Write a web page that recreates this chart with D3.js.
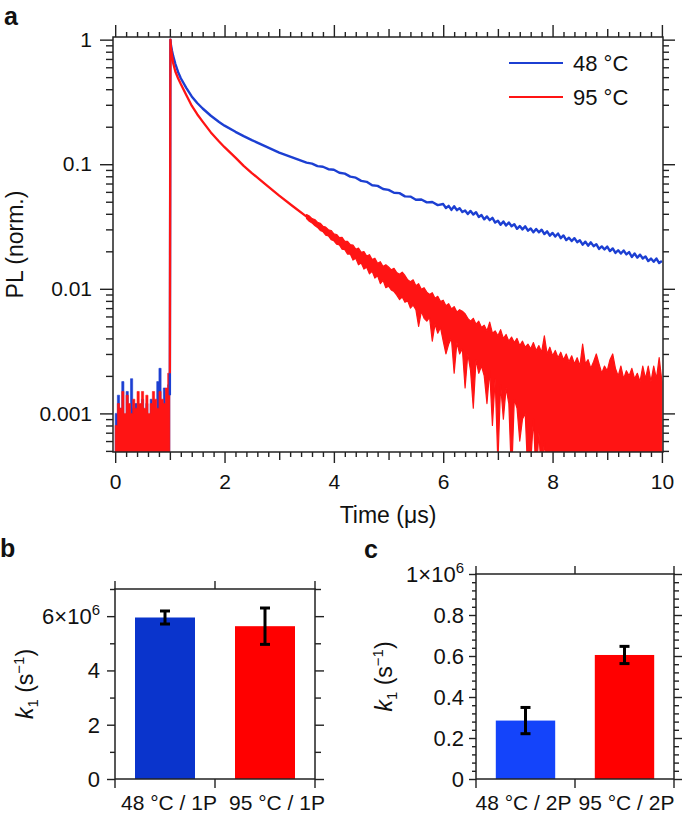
<!DOCTYPE html>
<html><head><meta charset="utf-8">
<script src="https://cdn.jsdelivr.net/npm/d3@7"></script>
<style>
body{margin:0;background:#fff;}
svg{display:block;font-family:"Liberation Sans",Arial,Helvetica,sans-serif;}
</style></head><body>
<svg id="chart" width="685" height="817"></svg>
<script>
// ---------------- DATA ----------------
const timeTicks = [0, 2, 4, 6, 8, 10];
const plTicks = [1, 0.1, 0.01, 0.001];
const plTickLabels = ["1", "0.1", "0.01", "0.001"];
const seriesNames = ["48 °C", "95 °C"];

// pre-pulse noise (time µs, upper value of the noise; trace reaches the floor between)
const blue48Pre = [[0.00,0.0010],[0.04,0.0014],[0.08,0.0011],[0.12,0.0018],[0.16,0.0009],[0.20,0.0015],[0.24,0.0010],[0.28,0.0019],[0.32,0.0011],[0.36,0.0012],[0.40,0.0010],[0.44,0.0011],[0.48,0.0013],[0.52,0.0010],[0.56,0.0012],[0.60,0.0009],[0.64,0.0013],[0.68,0.0011],[0.72,0.0010],[0.76,0.0018],[0.80,0.0023],[0.84,0.0012],[0.88,0.0016],[0.92,0.0011],[0.96,0.0017],[1.00,0.0014]];
const red95Pre = [[0.00,0.0008],[0.04,0.0012],[0.08,0.0011],[0.12,0.0015],[0.16,0.0010],[0.20,0.0014],[0.24,0.0012],[0.28,0.0010],[0.32,0.0013],[0.36,0.0011],[0.40,0.0015],[0.44,0.0012],[0.48,0.0015],[0.52,0.0011],[0.56,0.0014],[0.60,0.0010],[0.64,0.0012],[0.68,0.0015],[0.72,0.0013],[0.76,0.0011],[0.80,0.0015],[0.84,0.0013],[0.88,0.0012],[0.92,0.0016],[0.96,0.0021],[1.00,0.0021]];

// decay traces (time µs, PL norm.)
const blue48Decay = [[1.00,0.0014],[1.01,1.0],[1.02,0.90],[1.04,0.81],[1.06,0.74],[1.10,0.64],[1.15,0.55],[1.20,0.49],[1.30,0.41],[1.40,0.35],[1.50,0.31],[1.60,0.28],[1.75,0.245],[1.90,0.218],[2.00,0.204],[2.20,0.182],[2.35,0.168],[2.50,0.156],[2.75,0.139],[3.00,0.124],[3.25,0.113],[3.50,0.103],
[3.6,0.101],[3.7,0.0965],[3.8,0.0955],[3.9,0.0912],[4.0,0.0902],[4.1,0.0855],[4.2,0.0840],[4.3,0.0795],[4.4,0.0780],[4.5,0.0735],[4.6,0.0722],[4.7,0.0678],[4.8,0.0670],[4.9,0.0632],[5.0,0.0622],[5.1,0.0590],[5.2,0.0586],[5.3,0.0552],[5.4,0.0550],[5.5,0.0518],[5.6,0.0521],[5.7,0.0494],[5.8,0.0497],[5.9,0.0470],
[6.00,0.0479],[6.05,0.0445],[6.10,0.0463],[6.15,0.0430],[6.20,0.0460],[6.25,0.0428],[6.30,0.0444],[6.35,0.0413],[6.40,0.0425],[6.45,0.0398],[6.50,0.0422],[6.55,0.0395],[6.60,0.0412],[6.65,0.0377],[6.70,0.0391],[6.75,0.0361],[6.80,0.0381],[6.85,0.0356],[6.90,0.0371],[6.95,0.0340],
[7.00,0.0352],[7.05,0.0327],[7.10,0.0347],[7.15,0.0322],[7.20,0.0341],[7.25,0.0318],[7.30,0.0330],[7.35,0.0303],[7.40,0.0319],[7.45,0.0300],[7.50,0.0317],[7.55,0.0293],[7.60,0.0305],[7.65,0.0284],[7.70,0.0302],[7.75,0.0284],[7.80,0.0298],[7.85,0.0275],[7.90,0.0289],[7.95,0.0267],
[8.00,0.0281],[8.05,0.0263],[8.10,0.0278],[8.15,0.0255],[8.20,0.0268],[8.25,0.0246],[8.30,0.0257],[8.35,0.0242],[8.40,0.0255],[8.45,0.0237],[8.50,0.0245],[8.55,0.0226],[8.60,0.0239],[8.65,0.0222],[8.70,0.0236],[8.75,0.0220],[8.80,0.0228],[8.85,0.0209],[8.90,0.0219],[8.95,0.0207],
[9.00,0.0218],[9.05,0.0201],[9.10,0.0211],[9.15,0.0194],[9.20,0.0204],[9.25,0.0192],[9.30,0.0203],[9.35,0.0189],[9.40,0.0197],[9.45,0.0180],[9.50,0.0192],[9.55,0.0178],[9.60,0.0188],[9.65,0.0175],[9.70,0.0182],[9.75,0.0167],[9.80,0.0175],[9.85,0.0165],[9.90,0.0175],[9.95,0.0161],[10.00,0.0167]];
const red95Decay = [[1.00,0.0021],[1.01,1.0],[1.02,0.86],[1.04,0.74],[1.06,0.65],[1.10,0.555],[1.15,0.49],[1.20,0.44],[1.30,0.36],[1.40,0.295],[1.50,0.252],[1.60,0.22],[1.75,0.18],[1.90,0.152],[2.00,0.137],[2.20,0.113],[2.35,0.097],[2.50,0.085],[2.75,0.069],[3.00,0.056],[3.25,0.046],[3.50,0.038]];

// noisy red tail (time µs, lower and upper excursion of the noise)
const red95Tail = [[3.50,0.0366,0.0395],[3.55,0.0348,0.0384],[3.60,0.0338,0.0366],[3.65,0.0322,0.0360],[3.70,0.0311,0.0342],[3.75,0.0294,0.0336],[3.80,0.0288,0.0318],[3.85,0.0270,0.0313],[3.90,0.0266,0.0298],[3.95,0.0248,0.0294],
[4.00,0.0243,0.0276],[4.05,0.0228,0.0273],[4.10,0.0225,0.0258],[4.15,0.0208,0.0259],[4.20,0.0206,0.0240],[4.25,0.0190,0.0240],[4.30,0.0190,0.0226],[4.35,0.0170,0.0224],[4.40,0.0176,0.0208],[4.45,0.0156,0.0212],
[4.50,0.0161,0.0196],[4.55,0.0144,0.0199],[4.60,0.0149,0.0183],[4.65,0.0132,0.0188],[4.70,0.0138,0.0172],[4.75,0.0122,0.0176],[4.80,0.0127,0.0160],[4.85,0.0110,0.0165],[4.90,0.0117,0.0151],[4.95,0.0102,0.0156],
[5.00,0.0105,0.0150],[5.05,0.0098,0.0142],[5.10,0.0095,0.0146],[5.15,0.0089,0.0135],[5.20,0.0082,0.0131],[5.25,0.0086,0.0136],[5.30,0.0078,0.0128],[5.35,0.0080,0.0118],[5.40,0.0070,0.0114],[5.45,0.0074,0.0118],
[5.50,0.0068,0.0106],[5.55,0.0050,0.0110],[5.60,0.0066,0.0099],[5.65,0.0058,0.0102],[5.70,0.0055,0.0094],[5.75,0.0059,0.0090],[5.80,0.0038,0.0093],[5.85,0.0052,0.0084],[5.90,0.0044,0.0087],[5.95,0.0049,0.0079],
[6.00,0.0038,0.0081],[6.05,0.0030,0.0073],[6.10,0.0036,0.0076],[6.15,0.0040,0.0069],[6.20,0.0021,0.0072],[6.25,0.0037,0.0065],[6.30,0.0030,0.0068],[6.35,0.0033,0.0066],[6.40,0.0016,0.0063],[6.45,0.0030,0.0058],
[6.50,0.0022,0.0055],[6.55,0.0011,0.0058],[6.60,0.0027,0.0052],[6.65,0.0021,0.0055],[6.70,0.0024,0.0049],[6.75,0.0020,0.0051],[6.80,0.0012,0.0046],[6.85,0.0022,0.0054],[6.90,0.0008,0.0044],[6.95,0.0019,0.0046],
[7.00,0.0004,0.0042],[7.05,0.0017,0.0047],[7.10,0.0009,0.0040],[7.15,0.0016,0.0043],[7.20,0.0012,0.0038],[7.25,0.0003,0.0041],[7.30,0.0013,0.0037],[7.35,0.0011,0.0040],[7.40,0.0006,0.0035],[7.45,0.0009,0.0038],
[7.50,0.0010,0.0034],[7.55,0.0003,0.0036],[7.60,0.0004,0.0033],[7.65,0.0009,0.0037],[7.70,0.0003,0.0032],[7.75,0.0007,0.0035],[7.80,0.0003,0.0031],[7.85,0.0006,0.0042],[7.90,0.0003,0.0030],[7.95,0.0003,0.0034],
[8.00,0.0005,0.0029],[8.05,0.0003,0.0032],[8.10,0.0004,0.0028],[8.15,0.0003,0.0031],[8.20,0.0003,0.0027],[8.25,0.0003,0.0030],[8.30,0.0003,0.0026],[8.35,0.0003,0.0029],[8.40,0.0003,0.0025],[8.45,0.0003,0.0028],
[8.50,0.0003,0.0024],[8.55,0.0003,0.0036],[8.60,0.0003,0.0025],[8.65,0.0003,0.0027],[8.70,0.0003,0.0023],[8.75,0.0003,0.0026],[8.80,0.0003,0.0030],[8.85,0.0003,0.0025],[8.90,0.0003,0.0021],[8.95,0.0003,0.0024],
[9.00,0.0003,0.0022],[9.05,0.0003,0.0027],[9.10,0.0003,0.0030],[9.15,0.0003,0.0023],[9.20,0.0003,0.0020],[9.25,0.0003,0.0024],[9.30,0.0003,0.0019],[9.35,0.0003,0.0022],[9.40,0.0003,0.0020],[9.45,0.0003,0.0023],
[9.50,0.0003,0.0019],[9.55,0.0003,0.0021],[9.60,0.0003,0.0018],[9.65,0.0003,0.0024],[9.70,0.0003,0.0019],[9.75,0.0003,0.0024],[9.80,0.0003,0.0018],[9.85,0.0003,0.0024],[9.90,0.0003,0.0019],[9.95,0.0003,0.0028],[10.00,0.0003,0.0018]];

// bar panels
const k1Cats1P = ["48 °C / 1P", "95 °C / 1P"];
const k1Vals1P = [5.95e6, 5.63e6];
const k1Err1P = [0.24e6, 0.67e6];
const k1Ticks1P = [0, 2e6, 4e6, 6e6];
const k1Cats2P = ["48 °C / 2P", "95 °C / 2P"];
const k1Vals2P = [0.285e6, 0.605e6];
const k1Err2P = [0.064e6, 0.042e6];
const k1Ticks2P = [0, 0.2e6, 0.4e6, 0.6e6, 0.8e6, 1e6];

// ---------------- STYLE ----------------
const BLUE_LINE = "#1c3fd2", RED_LINE = "#ff1414";
const AX = "#222";
const FS = 21;

const svg = d3.select("#chart");

// ---------------- PANEL A ----------------
const A = {l: 113, r: 663, t: 37, b: 452};
const x = d3.scaleLinear().domain([-0.04, 10.02]).range([A.l, A.r]);
const y = d3.scaleLog().domain([0.00049, 1.05]).range([A.b, A.t]);

svg.append("defs").append("clipPath").attr("id", "clipA")
  .append("rect").attr("x", A.l).attr("y", A.t).attr("width", A.r - A.l).attr("height", A.b - A.t);

const gData = svg.append("g").attr("clip-path", "url(#clipA)");
const floorY = y.range()[0] + 2;

const preArea = d3.area().curve(d3.curveStepAfter)
  .x(d => x(d[0])).y0(floorY).y1(d => y(d[1]));
const line = d3.line().x(d => x(d[0])).y(d => y(d[1]));
const tailArea = d3.area()
  .x(d => x(d[0])).y0(d => y(d[1])).y1(d => y(d[2]));

gData.append("path").datum(blue48Pre).attr("d", preArea).attr("fill", BLUE_LINE).attr("stroke", BLUE_LINE).attr("stroke-width", 0.6);
gData.append("path").datum(red95Pre).attr("d", preArea).attr("fill", RED_LINE).attr("stroke", RED_LINE).attr("stroke-width", 0.6);
gData.append("path").datum(blue48Decay).attr("d", line).attr("fill", "none").attr("stroke", BLUE_LINE).attr("stroke-width", 2.4).attr("stroke-linejoin", "round");
gData.append("path").datum(red95Decay).attr("d", line).attr("fill", "none").attr("stroke", RED_LINE).attr("stroke-width", 2.3).attr("stroke-linejoin", "round");
gData.append("path").datum(red95Tail).attr("d", tailArea).attr("fill", RED_LINE).attr("stroke", RED_LINE).attr("stroke-width", 1.2).attr("stroke-linejoin", "round");

// axes
function styleAxis(g) {
  g.select(".domain").remove();
  g.selectAll(".tick line").attr("stroke", AX).attr("stroke-width", 1.4);
  g.selectAll("text").attr("fill", "#111").attr("font-size", FS).attr("font-family", "Liberation Sans, Arial, sans-serif");
}
const xMinor = d3.range(0, 10.001, 0.2).filter(v => Math.abs(v - Math.round(v)) > 0.01);
const xMid = [1, 3, 5, 7, 9];
const yMinor = [];
[0.0001, 0.001, 0.01, 0.1].forEach(dec => [2,3,4,5,6,7,8,9].forEach(m => {
  const v = dec * m; if (v >= y.domain()[0] && v <= y.domain()[1]) yMinor.push(v);
}));

// bottom
svg.append("g").attr("transform", `translate(0,${A.b})`)
  .call(d3.axisBottom(x).tickValues(timeTicks).tickSize(11).tickPadding(11).tickFormat(d3.format("d"))).call(styleAxis);
svg.append("g").attr("transform", `translate(0,${A.b})`)
  .call(d3.axisBottom(x).tickValues(xMid).tickSize(8).tickFormat("")).call(styleAxis);
svg.append("g").attr("transform", `translate(0,${A.b})`)
  .call(d3.axisBottom(x).tickValues(xMinor).tickSize(5).tickFormat("")).call(styleAxis);
// top
svg.append("g").attr("transform", `translate(0,${A.t})`)
  .call(d3.axisTop(x).tickValues(timeTicks).tickSize(12).tickFormat("")).call(styleAxis);
svg.append("g").attr("transform", `translate(0,${A.t})`)
  .call(d3.axisTop(x).tickValues(xMid).tickSize(8).tickFormat("")).call(styleAxis);
svg.append("g").attr("transform", `translate(0,${A.t})`)
  .call(d3.axisTop(x).tickValues(xMinor).tickSize(5).tickFormat("")).call(styleAxis);
// left
svg.append("g").attr("transform", `translate(${A.l},0)`)
  .call(d3.axisLeft(y).tickValues(plTicks).tickSize(13).tickPadding(8).tickFormat((d, i) => plTickLabels[i])).call(styleAxis);
svg.append("g").attr("transform", `translate(${A.l},0)`)
  .call(d3.axisLeft(y).tickValues(yMinor).tickSize(7).tickFormat("")).call(styleAxis);
// right
svg.append("g").attr("transform", `translate(${A.r},0)`)
  .call(d3.axisRight(y).tickValues(plTicks).tickSize(12).tickFormat("")).call(styleAxis);
svg.append("g").attr("transform", `translate(${A.r},0)`)
  .call(d3.axisRight(y).tickValues(yMinor).tickSize(6).tickFormat("")).call(styleAxis);

svg.append("rect").attr("x", A.l).attr("y", A.t).attr("width", A.r - A.l).attr("height", A.b - A.t)
  .attr("fill", "none").attr("stroke", AX).attr("stroke-width", 1.5);

// titles
svg.append("text").attr("x", (A.l + A.r) / 2).attr("y", A.b + 71).attr("text-anchor", "middle")
  .attr("font-size", 23).attr("fill", "#111").text("Time (μs)");
svg.append("text").attr("transform", `translate(23,${(A.t + A.b) / 2}) rotate(-90)`).attr("text-anchor", "middle")
  .attr("font-size", 23).attr("fill", "#111").text("PL (norm.)");
svg.append("text").attr("x", 4).attr("y", 25).attr("font-size", 25).attr("font-weight", "bold").attr("fill", "#111").text("a");

// legend
const legColors = [BLUE_LINE, RED_LINE];
seriesNames.forEach((name, i) => {
  const ly = 63 + i * 34;
  svg.append("line").attr("x1", 509).attr("x2", 563).attr("y1", ly).attr("y2", ly)
    .attr("stroke", legColors[i]).attr("stroke-width", 2.2);
  svg.append("text").attr("x", 573).attr("y", ly + 8).attr("font-size", 22).attr("fill", "#111").text(name);
});

// ---------------- BAR PANELS ----------------
function barPanel(cfg) {
  const xb = d3.scaleBand().domain(cfg.cats).range([cfg.l, cfg.r]).paddingInner(0.4).paddingOuter(0.2);
  const yb = d3.scaleLinear().domain([0, cfg.yMax]).range([cfg.b, cfg.t]);
  const g = svg.append("g");
  g.selectAll("rect.bar").data(cfg.vals).enter().append("rect")
    .attr("x", (d, i) => xb(cfg.cats[i])).attr("width", xb.bandwidth())
    .attr("y", d => yb(d)).attr("height", d => yb(0) - yb(d))
    .attr("fill", (d, i) => cfg.colors[i]);
  cfg.vals.forEach((v, i) => {
    const cx = xb(cfg.cats[i]) + xb.bandwidth() / 2;
    const e = cfg.errs[i];
    g.append("line").attr("x1", cx).attr("x2", cx).attr("y1", yb(v - e)).attr("y2", yb(v + e)).attr("stroke", "#000").attr("stroke-width", 3);
    [v - e, v + e].forEach(w => g.append("line").attr("x1", cx - 5).attr("x2", cx + 5).attr("y1", yb(w)).attr("y2", yb(w)).attr("stroke", "#000").attr("stroke-width", 3));
  });
  const major = cfg.ticks;
  const minor = cfg.minor;
  g.append("g").attr("transform", `translate(${cfg.l},0)`).call(d3.axisLeft(yb).tickValues(major).tickSize(cfg.majLen).tickFormat("")).call(styleAxis);
  g.append("g").attr("transform", `translate(${cfg.l},0)`).call(d3.axisLeft(yb).tickValues(minor).tickSize(cfg.minLen).tickFormat("")).call(styleAxis);
  g.append("g").attr("transform", `translate(${cfg.r},0)`).call(d3.axisRight(yb).tickValues(major).tickSize(cfg.majLen + 1).tickFormat("")).call(styleAxis);
  g.append("g").attr("transform", `translate(${cfg.r},0)`).call(d3.axisRight(yb).tickValues(minor).tickSize(cfg.minLen + 1).tickFormat("")).call(styleAxis);
  const step = xb.step();
  const bounds = d3.range(cfg.cats.length + 1).map(i => cfg.l + i * step);
  bounds.forEach(bx => {
    g.append("line").attr("x1", bx).attr("x2", bx).attr("y1", cfg.t).attr("y2", cfg.t - 8).attr("stroke", AX).attr("stroke-width", 1.4);
    g.append("line").attr("x1", bx).attr("x2", bx).attr("y1", cfg.b).attr("y2", cfg.b + 9).attr("stroke", AX).attr("stroke-width", 1.4);
  });
  g.append("rect").attr("x", cfg.l).attr("y", cfg.t).attr("width", cfg.r - cfg.l).attr("height", cfg.b - cfg.t)
    .attr("fill", "none").attr("stroke", AX).attr("stroke-width", 1.5);
  const top = major[major.length - 1];
  major.forEach(v => {
    const t = g.append("text").attr("x", cfg.l - cfg.majLen - cfg.labPad).attr("y", yb(v) + 8)
      .attr("text-anchor", "end").attr("font-size", 22).attr("fill", "#111");
    if (v === top) {
      t.append("tspan").text(d3.format("d")(v / 1e6) + "×10");
      t.append("tspan").attr("dy", -9).attr("font-size", 15).text("6");
    } else {
      t.text(d3.format("~g")(v / 1e6));
    }
  });
  cfg.cats.forEach((c, i) => {
    g.append("text").attr("x", xb(c) + xb.bandwidth() / 2 + cfg.nudge[i]).attr("y", 810)
      .attr("text-anchor", "middle").attr("font-size", FS).attr("fill", "#111").text(c);
  });
  const yt = g.append("text").attr("transform", `translate(${cfg.titleX},${(cfg.t + cfg.b) / 2}) rotate(-90)`)
    .attr("text-anchor", "middle").attr("font-size", 23).attr("fill", "#111");
  yt.append("tspan").attr("font-style", "italic").text("k");
  yt.append("tspan").attr("font-size", 15).attr("dy", 5).text("1");
  yt.append("tspan").attr("dy", -5).text(" (s");
  yt.append("tspan").attr("font-size", 15).attr("dy", -9).text("−1");
  yt.append("tspan").attr("dy", 9).text(")");
  svg.append("text").attr("x", cfg.letterX).attr("y", cfg.letterY).attr("font-size", 25).attr("font-weight", "bold").attr("fill", "#111").text(cfg.letter);
}

barPanel({
  l: 115, r: 315, t: 589, b: 779, yMax: 7e6,
  cats: k1Cats1P, vals: k1Vals1P, errs: k1Err1P, ticks: k1Ticks1P,
  minor: [1e6, 3e6, 5e6, 7e6], majLen: 8, minLen: 5, labPad: 7,
  colors: ["#0a34cc", "#ff0000"], nudge: [4, 12], titleX: 33,
  letter: "b", letterX: 0, letterY: 557
});
barPanel({
  l: 476, r: 674, t: 574, b: 779, yMax: 1e6,
  cats: k1Cats2P, vals: k1Vals2P, errs: k1Err2P, ticks: k1Ticks2P,
  minor: d3.range(0.04e6, 1e6, 0.04e6).filter(v => Math.abs(v / 0.2e6 - Math.round(v / 0.2e6)) > 0.01),
  majLen: 7, minLen: 4, labPad: 5,
  colors: ["#1444fa", "#ff0000"], nudge: [-2, 2], titleX: 392,
  letter: "c", letterX: 364, letterY: 558
});
</script>
</body></html>
